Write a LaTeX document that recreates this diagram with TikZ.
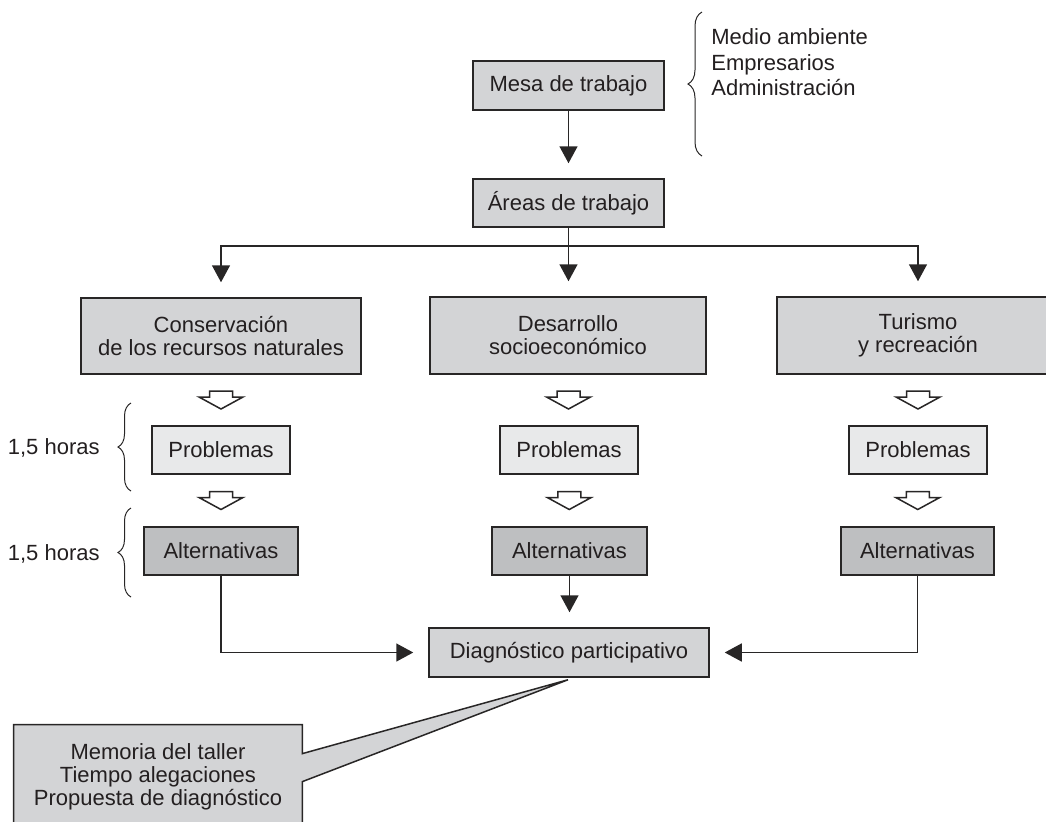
\documentclass[tikz,border=0pt]{standalone}
\usepackage{fontspec}
\setmainfont{Liberation Sans}
\usepackage{tikz}
\usetikzlibrary{arrows.meta, positioning, calc, decorations.pathreplacing, backgrounds}
\definecolor{boxgray}{RGB}{211,212,214}
\definecolor{probgray}{RGB}{232,233,234}
\definecolor{altgray}{RGB}{190,191,193}
\definecolor{edgegray}{RGB}{40,38,38}
\definecolor{inkgray}{RGB}{35,31,32}
\tikzset{
  block/.style = {rectangle, draw=edgegray, line width=0.75pt, fill=boxgray,
    text=inkgray, align=center, inner sep=0pt},
  probblock/.style = {block, fill=probgray, minimum width=69pt, minimum height=24pt},
  altblock/.style = {block, fill=altgray, minimum width=77pt, minimum height=24pt},
  arrow/.style = {line width=0.75pt, draw=edgegray,
    -{Triangle[length=8.5pt,width=9pt]}, shorten >=7.5pt},
  line/.style  = {line width=0.75pt, draw=edgegray},
  curly/.style = {decorate, decoration={brace, amplitude=6.5pt},
    line width=0.5pt, draw=edgegray},
  label/.style = {text=inkgray, inner sep=0pt},
  hollow/.pic = {\draw[line width=0.75pt, draw=edgegray, fill=white]
    (-11.5,-9) -- (11.5,-9) -- (11.5,-3) -- (22,-3) -- (0,9) -- (-22,-3) -- (-11.5,-3) -- cycle;},
}
\begin{document}
\begin{tikzpicture}[x=0.5pt, y=-0.5pt, font=\fontsize{11}{11.5}\selectfont]
  \path[use as bounding box, clip] (0,0) rectangle (1046,821);

  \node[block, minimum width=95.5pt, minimum height=24.5pt] (mesa) at (568.5,85.5) {Mesa de trabajo};
  \node[block, minimum width=95.5pt, minimum height=24pt] (areas) at (568.5,203) {Áreas de trabajo};
  \node[label, anchor=west, align=left, font=\fontsize{11}{12.75}\selectfont] (grupos) at (711,62.5)
    {Medio ambiente\\Empresarios\\Administración};

  \node[block, minimum width=140pt, minimum height=38pt] (cons) at (221,336) {Conservación\\de los recursos naturales};
  \node[block, minimum width=138pt, minimum height=38.5pt] (desa) at (568,335.5) {Desarrollo\\socioeconómico};
  \node[block, minimum width=141pt, minimum height=38.5pt] (tur) at (918,335.5) {Turismo\\y recreación};

  \node[probblock] (prob1) at (221,450) {Problemas};
  \node[probblock] (prob2) at (569,450) {Problemas};
  \node[probblock] (prob3) at (918,450) {Problemas};

  \node[altblock] (alt1) at (221,551) {Alternativas};
  \node[altblock, minimum width=77.5pt] (alt2) at (569.5,551) {Alternativas};
  \node[altblock, minimum width=76.5pt] (alt3) at (917.5,551) {Alternativas};

  \node[block, minimum width=140pt, minimum height=24.5pt] (diag) at (569,652.5) {Diagnóstico participativo};

  \node[label, minimum width=144pt, minimum height=52pt, align=center] (memo) at (158,777)
    {Memoria del taller\\Tiempo alegaciones\\Propuesta de diagnóstico};

  \node[label, anchor=east] (horas1) at (100,448) {1,5 horas};
  \node[label, anchor=east] (horas2) at (100,554) {1,5 horas};

  % callout behind the text
  \begin{scope}[on background layer]
    \draw[line, fill=boxgray] (memo.south west) -- (memo.north west) -- (memo.north east)
      -- ($(memo.north east)+(0,29)$) -- ($(diag.south)+(-1,2)$)
      -- ($(memo.north east)+(0,57)$) -- (memo.south east) -- cycle;
  \end{scope}

  % braces
  \draw[curly, decoration={amplitude=7pt}] (702,156) -- (702,12);
  \draw[curly] (131,491) -- (131,403);
  \draw[curly] (131,597) -- (131,508);

  % connectors
  \coordinate (fork) at (568,246);
  \draw[arrow] (mesa) -- (areas);
  \draw[arrow] (areas.south) -- (areas.south |- desa.north);
  \draw[arrow] (fork) -| (cons);
  \draw[arrow] (fork) -| (tur);

  \path ($(cons.south)!0.5!(prob1.north)$) pic {hollow};
  \path ($(desa.south)!0.5!(prob2.north)$) pic {hollow};
  \path ($(tur.south)!0.5!(prob3.north)$) pic {hollow};
  \path ($(prob1.south)!0.5!(alt1.north)$) pic {hollow};
  \path ($(prob2.south)!0.5!(alt2.north)$) pic {hollow};
  \path ($(prob3.south)!0.5!(alt3.north)$) pic {hollow};

  \draw[arrow] (alt1) |- (diag);
  \draw[arrow] (alt2.south) -- (alt2.south |- diag.north);
  \draw[arrow] (alt3) |- (diag);
\end{tikzpicture}
\end{document}
